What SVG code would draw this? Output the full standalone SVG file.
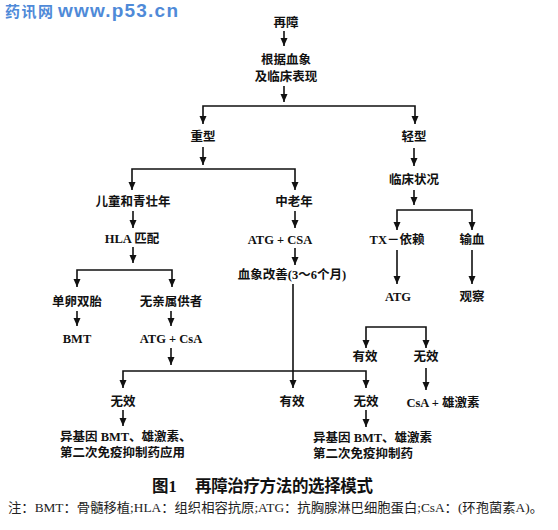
<svg xmlns="http://www.w3.org/2000/svg" width="558" height="530" viewBox="0 0 558 530">
<style>
.t{font-family:"Liberation Serif","Noto Sans CJK SC",serif;font-weight:bold;font-size:12.5px;fill:#111;text-anchor:middle}
.ts{text-anchor:start}
.cap{font-size:16.5px}
.c{fill:none;stroke:#111;stroke-width:1.6}
.wm{font-weight:bold;fill:#4f8ad8;stroke:#fff;stroke-width:0.6;paint-order:stroke}
</style>
<defs>
<marker id="ah" markerUnits="userSpaceOnUse" markerWidth="9" markerHeight="9" refX="8" refY="3.5" orient="auto-start-reverse">
<path d="M0,0 L8,3.5 L0,7 z" fill="#111"/>
</marker>
</defs>
<rect width="558" height="530" fill="#fff"/>
<g id="watermark">
<text class="wm" x="5" y="17" font-family="Noto Sans CJK SC, sans-serif" font-size="15" textLength="48">药讯网</text>
<text class="wm" x="58" y="17" font-family="Liberation Sans, Arial, sans-serif" font-size="19" textLength="120">www.p53.cn</text>
</g>
<g id="connectors">
<path class="c" d="M284,31 V46" marker-end="url(#ah)"/>
<path class="c" d="M284,86 V102" marker-end="url(#ah)"/>
<path class="c" d="M203,124 V106 H415 V124" marker-start="url(#ah)" marker-end="url(#ah)"/>
<path class="c" d="M203,147 V165" marker-end="url(#ah)"/>
<path class="c" d="M132,190 V169 H295 V190" marker-start="url(#ah)" marker-end="url(#ah)"/>
<path class="c" d="M414,148 V166" marker-end="url(#ah)"/>
<path class="c" d="M414,190 V205" marker-end="url(#ah)"/>
<path class="c" d="M397,230 V210 H472 V230" marker-start="url(#ah)" marker-end="url(#ah)"/>
<path class="c" d="M397,250 V284" marker-end="url(#ah)"/>
<path class="c" d="M472,250 V284" marker-end="url(#ah)"/>
<path class="c" d="M133,211 V228" marker-end="url(#ah)"/>
<path class="c" d="M133,247 V263" marker-end="url(#ah)"/>
<path class="c" d="M77,287 V270 H172 V287" marker-start="url(#ah)" marker-end="url(#ah)"/>
<path class="c" d="M77,311 V326" marker-end="url(#ah)"/>
<path class="c" d="M171,311 V326" marker-end="url(#ah)"/>
<path class="c" d="M295,211 V228" marker-end="url(#ah)"/>
<path class="c" d="M295,248 V265" marker-end="url(#ah)"/>
<path class="c" d="M171,348 V365" marker-end="url(#ah)"/>
<path class="c" d="M123,388 V371 H366 V388" marker-start="url(#ah)" marker-end="url(#ah)"/>
<path class="c" d="M293,284 V388" marker-end="url(#ah)"/>
<path class="c" d="M366,348 V327 H426 V348" marker-start="url(#ah)" marker-end="url(#ah)"/>
<path class="c" d="M426,368 V390" marker-end="url(#ah)"/>
<path class="c" d="M123,410 V426" marker-end="url(#ah)"/>
<path class="c" d="M366,410 V427" marker-end="url(#ah)"/>
</g>
<g id="n-zaizhang"><text class="t" x="286" y="27">再障</text></g>
<g id="n-genju"><text class="t" x="286" y="64">根据血象</text><text class="t" x="286" y="81">及临床表现</text></g>
<g id="n-zhongxing"><text class="t" x="203" y="141">重型</text></g>
<g id="n-qingxing"><text class="t" x="414" y="141">轻型</text></g>
<g id="n-linchuang"><text class="t" x="414" y="184">临床状况</text></g>
<g id="n-tx"><text class="t" x="397" y="244">TX－依赖</text></g>
<g id="n-shuxue"><text class="t" x="472" y="244">输血</text></g>
<g id="n-atg1"><text class="t" x="398" y="301">ATG</text></g>
<g id="n-guancha"><text class="t" x="472" y="301">观察</text></g>
<g id="n-ertong"><text class="t" x="133" y="206">儿童和青壮年</text></g>
<g id="n-zhonglao"><text class="t" x="294" y="206">中老年</text></g>
<g id="n-hla"><text class="t" x="132" y="243">HLA 匹配</text></g>
<g id="n-atgcsa1"><text class="t" x="280" y="244">ATG + CSA</text></g>
<g id="n-xuexiang"><text class="t" x="292" y="279">血象改善(3～6个月)</text></g>
<g id="n-danluan"><text class="t" x="77" y="306">单卵双胎</text></g>
<g id="n-wuqin"><text class="t" x="171" y="306">无亲属供者</text></g>
<g id="n-bmt"><text class="t" x="77" y="343">BMT</text></g>
<g id="n-atgcsa2"><text class="t" x="171" y="343">ATG + CsA</text></g>
<g id="n-youxiao1"><text class="t" x="365" y="361">有效</text></g>
<g id="n-wuxiao1"><text class="t" x="426" y="361">无效</text></g>
<g id="n-csa"><text class="t" x="443" y="407">CsA + 雄激素</text></g>
<g id="n-wuxiao2"><text class="t" x="123" y="406">无效</text></g>
<g id="n-youxiao2"><text class="t" x="292" y="406">有效</text></g>
<g id="n-wuxiao3"><text class="t" x="366" y="406">无效</text></g>
<g id="n-yiji1"><text class="t ts" x="60" y="441">异基因 BMT、雄激素、</text><text class="t ts" x="60" y="457">第二次免疫抑制药应用</text></g>
<g id="n-yiji2"><text class="t ts" x="313" y="442">异基因 BMT、雄激素</text><text class="t ts" x="313" y="458">第二次免疫抑制药</text></g>
<g id="caption">
<text class="t ts cap" x="152" y="492">图1</text>
<text class="t ts cap" x="195" y="492" textLength="178">再障治疗方法的选择模式</text>
<text x="8" y="512" font-family="Liberation Serif, Noto Sans CJK SC, serif" font-size="13" fill="#222" textLength="535" lengthAdjust="spacingAndGlyphs">注：BMT：骨髓移植;HLA：组织相容抗原;ATG：抗胸腺淋巴细胞蛋白;CsA：(环孢菌素A)。</text>
</g>
</svg>
